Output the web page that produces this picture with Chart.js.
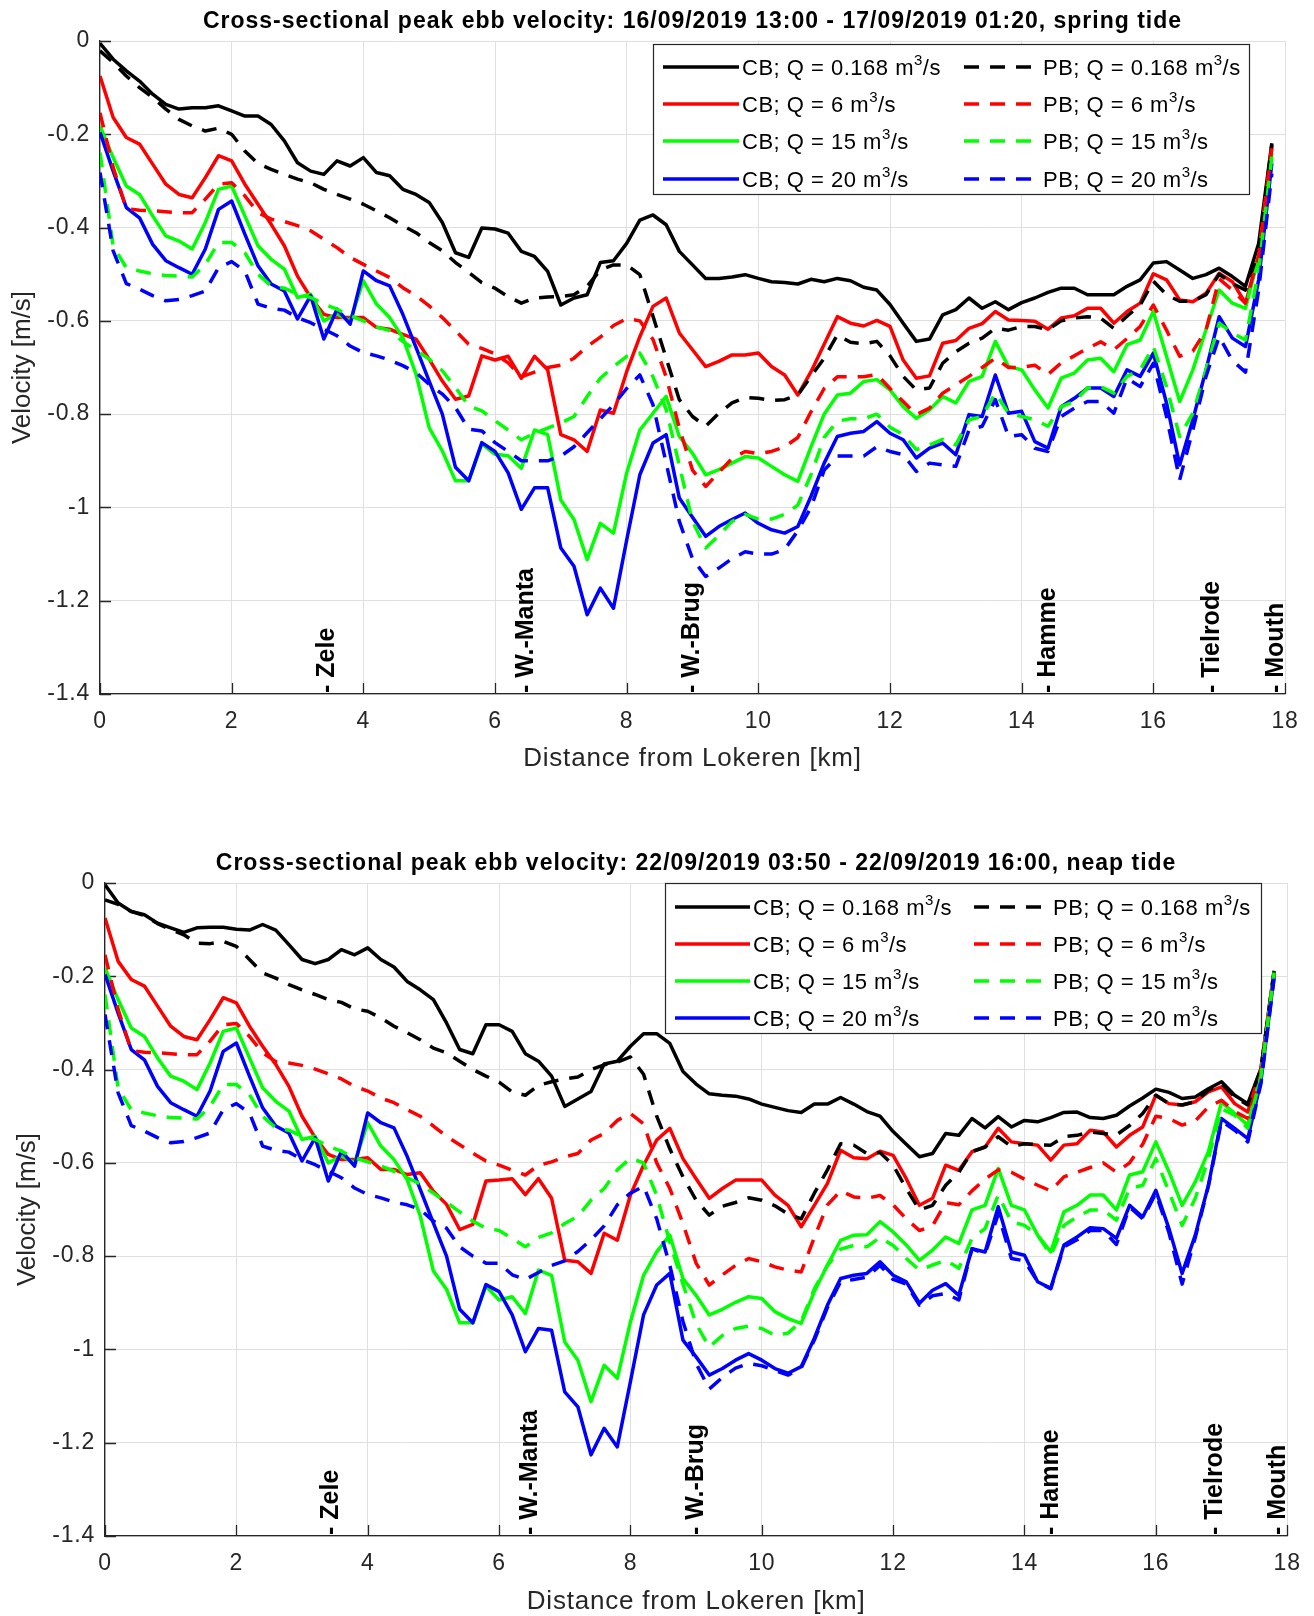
<!DOCTYPE html>
<html>
<head>
<meta charset="utf-8">
<script src="https://cdn.jsdelivr.net/npm/chart.js@4.4.0/dist/chart.umd.min.js"></script>
<style>
  html, body { margin: 0; padding: 0; background: #fff; }
  #fig { position: relative; width: 1314px; height: 1616px; }
  canvas { position: absolute; left: 0; }
</style>
</head>
<body>
<div id="fig">
  <canvas id="springChart" width="1314" height="810" style="top:0"></canvas>
  <canvas id="neapChart" width="1314" height="806" style="top:810px"></canvas>
</div>
<script>
// distance along the river (km), one value every 200 m
const distanceKm = [
  0.0, 0.2, 0.4, 0.6, 0.8, 1.0, 1.2, 1.4, 1.6, 1.8,
  2.0, 2.2, 2.4, 2.6, 2.8, 3.0, 3.2, 3.4, 3.6, 3.8,
  4.0, 4.2, 4.4, 4.6, 4.8, 5.0, 5.2, 5.4, 5.6, 5.8,
  6.0, 6.2, 6.4, 6.6, 6.8, 7.0, 7.2, 7.4, 7.6, 7.8,
  8.0, 8.2, 8.4, 8.6, 8.8, 9.0, 9.2, 9.4, 9.6, 9.8,
  10.0, 10.2, 10.4, 10.6, 10.8, 11.0, 11.2, 11.4, 11.6, 11.8,
  12.0, 12.2, 12.4, 12.6, 12.8, 13.0, 13.2, 13.4, 13.6, 13.8,
  14.0, 14.2, 14.4, 14.6, 14.8, 15.0, 15.2, 15.4, 15.6, 15.8,
  16.0, 16.2, 16.4, 16.6, 16.8, 17.0, 17.2, 17.4, 17.6, 17.8
];

const xTickValues = [0, 2, 4, 6, 8, 10, 12, 14, 16, 18];
const yTickValues = [-1.4, -1.2, -1, -0.8, -0.6, -0.4, -0.2, 0];
const yTickLabels = ['-1.4', '-1.2', '-1', '-0.8', '-0.6', '-0.4', '-0.2', '0'];

const flowLabels = ['0.168', '6', '15', '20'];
const stationNames = ['Zele', 'W.-Manta', 'W.-Brug', 'Hamme', 'Tielrode', 'Mouth'];
const stationKm = [3.45, 6.48, 9.0, 14.4, 16.9, 17.86];

// ---- spring tide (16/09/2019) ----
const springCB_Q0168 = [
  -0.005,-0.039,-0.064,-0.086,-0.114,-0.136,-0.146,-0.143,-0.143,-0.139,
  -0.150,-0.161,-0.161,-0.179,-0.214,-0.261,-0.279,-0.286,-0.257,-0.268,
  -0.250,-0.282,-0.289,-0.318,-0.329,-0.346,-0.389,-0.454,-0.464,-0.401,
  -0.403,-0.412,-0.451,-0.462,-0.494,-0.566,-0.551,-0.544,-0.475,-0.471,
  -0.434,-0.384,-0.373,-0.394,-0.451,-0.480,-0.509,-0.509,-0.506,-0.501,
  -0.509,-0.516,-0.518,-0.521,-0.511,-0.516,-0.509,-0.514,-0.528,-0.534,
  -0.565,-0.605,-0.644,-0.639,-0.587,-0.576,-0.551,-0.573,-0.559,-0.576,
  -0.561,-0.551,-0.539,-0.530,-0.530,-0.544,-0.544,-0.544,-0.526,-0.512,
  -0.476,-0.473,-0.491,-0.509,-0.501,-0.487,-0.505,-0.526,-0.434,-0.219
];
const springCB_Q6 = [
  -0.075,-0.164,-0.207,-0.221,-0.264,-0.307,-0.329,-0.336,-0.293,-0.246,
  -0.257,-0.307,-0.350,-0.393,-0.439,-0.504,-0.550,-0.586,-0.593,-0.593,
  -0.593,-0.614,-0.618,-0.629,-0.639,-0.682,-0.729,-0.768,-0.761,-0.675,
  -0.684,-0.676,-0.723,-0.676,-0.705,-0.844,-0.855,-0.880,-0.791,-0.798,
  -0.709,-0.634,-0.569,-0.551,-0.626,-0.662,-0.698,-0.687,-0.673,-0.673,
  -0.669,-0.698,-0.716,-0.759,-0.709,-0.650,-0.591,-0.605,-0.611,-0.599,
  -0.612,-0.684,-0.723,-0.718,-0.648,-0.642,-0.616,-0.606,-0.580,-0.598,
  -0.599,-0.601,-0.618,-0.594,-0.589,-0.573,-0.573,-0.605,-0.580,-0.562,
  -0.499,-0.512,-0.555,-0.559,-0.541,-0.498,-0.516,-0.562,-0.462,-0.226
];
const springCB_Q15 = [
  -0.182,-0.250,-0.311,-0.329,-0.375,-0.418,-0.429,-0.446,-0.389,-0.318,
  -0.311,-0.375,-0.439,-0.468,-0.489,-0.550,-0.543,-0.600,-0.585,-0.600,
  -0.514,-0.564,-0.593,-0.636,-0.714,-0.829,-0.879,-0.943,-0.943,-0.864,
  -0.886,-0.889,-0.916,-0.834,-0.844,-0.984,-1.026,-1.112,-1.034,-1.055,
  -0.926,-0.834,-0.798,-0.762,-0.848,-0.884,-0.930,-0.919,-0.905,-0.891,
  -0.894,-0.912,-0.930,-0.944,-0.870,-0.800,-0.759,-0.755,-0.730,-0.726,
  -0.748,-0.784,-0.809,-0.791,-0.762,-0.776,-0.730,-0.719,-0.644,-0.698,
  -0.705,-0.748,-0.787,-0.723,-0.712,-0.684,-0.680,-0.709,-0.651,-0.641,
  -0.580,-0.676,-0.773,-0.705,-0.619,-0.534,-0.562,-0.573,-0.462,-0.241
];
const springCB_Q20 = [
  -0.196,-0.279,-0.357,-0.379,-0.436,-0.471,-0.486,-0.500,-0.446,-0.361,
  -0.343,-0.414,-0.482,-0.521,-0.536,-0.596,-0.546,-0.639,-0.575,-0.607,
  -0.493,-0.514,-0.525,-0.586,-0.657,-0.729,-0.800,-0.914,-0.943,-0.861,
  -0.880,-0.926,-1.004,-0.958,-0.958,-1.087,-1.126,-1.230,-1.173,-1.216,
  -1.070,-0.930,-0.862,-0.844,-0.980,-1.021,-1.062,-1.041,-1.026,-1.012,
  -1.034,-1.048,-1.055,-1.041,-0.976,-0.905,-0.848,-0.841,-0.837,-0.816,
  -0.841,-0.855,-0.894,-0.873,-0.862,-0.887,-0.801,-0.805,-0.716,-0.798,
  -0.794,-0.859,-0.873,-0.784,-0.766,-0.744,-0.744,-0.762,-0.705,-0.719,
  -0.669,-0.776,-0.909,-0.812,-0.705,-0.591,-0.637,-0.655,-0.512,-0.262
];
const springPB_Q0168 = [
  -0.021,-0.046,-0.075,-0.100,-0.121,-0.146,-0.168,-0.182,-0.193,-0.187,
  -0.200,-0.236,-0.263,-0.275,-0.286,-0.296,-0.304,-0.318,-0.329,-0.339,
  -0.350,-0.364,-0.379,-0.396,-0.411,-0.432,-0.450,-0.475,-0.496,-0.518,
  -0.530,-0.548,-0.562,-0.551,-0.549,-0.548,-0.544,-0.526,-0.491,-0.480,
  -0.480,-0.501,-0.590,-0.680,-0.769,-0.805,-0.826,-0.798,-0.776,-0.764,
  -0.766,-0.771,-0.769,-0.759,-0.719,-0.680,-0.630,-0.646,-0.649,-0.644,
  -0.675,-0.719,-0.748,-0.744,-0.691,-0.666,-0.648,-0.637,-0.616,-0.620,
  -0.612,-0.612,-0.619,-0.600,-0.594,-0.591,-0.594,-0.616,-0.590,-0.566,
  -0.515,-0.544,-0.558,-0.558,-0.544,-0.500,-0.520,-0.534,-0.450,-0.222
];
const springPB_Q6 = [
  -0.154,-0.271,-0.359,-0.363,-0.364,-0.366,-0.368,-0.368,-0.339,-0.307,
  -0.304,-0.332,-0.368,-0.382,-0.387,-0.396,-0.407,-0.425,-0.443,-0.464,
  -0.479,-0.493,-0.507,-0.529,-0.546,-0.568,-0.593,-0.621,-0.650,-0.659,
  -0.671,-0.690,-0.720,-0.710,-0.700,-0.695,-0.680,-0.655,-0.635,-0.610,
  -0.595,-0.600,-0.640,-0.720,-0.830,-0.920,-0.955,-0.925,-0.895,-0.880,
  -0.885,-0.880,-0.870,-0.850,-0.795,-0.745,-0.720,-0.720,-0.720,-0.715,
  -0.745,-0.773,-0.801,-0.787,-0.755,-0.737,-0.719,-0.700,-0.680,-0.700,
  -0.700,-0.695,-0.715,-0.690,-0.675,-0.659,-0.645,-0.662,-0.638,-0.612,
  -0.566,-0.620,-0.676,-0.665,-0.620,-0.510,-0.534,-0.562,-0.460,-0.230
];
const springPB_Q15 = [
  -0.239,-0.440,-0.486,-0.493,-0.499,-0.503,-0.504,-0.506,-0.479,-0.432,
  -0.432,-0.454,-0.500,-0.525,-0.530,-0.543,-0.550,-0.564,-0.575,-0.589,
  -0.600,-0.613,-0.621,-0.644,-0.663,-0.682,-0.707,-0.743,-0.782,-0.793,
  -0.814,-0.834,-0.855,-0.841,-0.830,-0.819,-0.805,-0.762,-0.723,-0.698,
  -0.676,-0.669,-0.720,-0.790,-0.910,-1.030,-1.087,-1.060,-1.030,-1.015,
  -1.025,-1.025,-1.015,-0.995,-0.930,-0.850,-0.815,-0.810,-0.810,-0.800,
  -0.828,-0.844,-0.876,-0.866,-0.854,-0.866,-0.812,-0.805,-0.755,-0.798,
  -0.805,-0.812,-0.826,-0.784,-0.773,-0.744,-0.741,-0.755,-0.719,-0.705,
  -0.655,-0.741,-0.848,-0.798,-0.705,-0.605,-0.626,-0.641,-0.491,-0.248
];
const springPB_Q20 = [
  -0.282,-0.450,-0.520,-0.532,-0.546,-0.557,-0.554,-0.546,-0.536,-0.486,
  -0.473,-0.493,-0.564,-0.573,-0.577,-0.593,-0.604,-0.618,-0.632,-0.654,
  -0.668,-0.675,-0.684,-0.696,-0.711,-0.736,-0.757,-0.786,-0.832,-0.836,
  -0.861,-0.880,-0.900,-0.900,-0.900,-0.890,-0.870,-0.840,-0.810,-0.780,
  -0.745,-0.716,-0.780,-0.905,-1.030,-1.110,-1.148,-1.130,-1.110,-1.095,
  -1.100,-1.100,-1.090,-1.050,-1.000,-0.920,-0.890,-0.890,-0.890,-0.870,
  -0.880,-0.887,-0.923,-0.905,-0.909,-0.912,-0.834,-0.826,-0.769,-0.848,
  -0.844,-0.873,-0.880,-0.805,-0.787,-0.773,-0.773,-0.798,-0.723,-0.741,
  -0.691,-0.805,-0.941,-0.834,-0.719,-0.634,-0.685,-0.710,-0.534,-0.284
];

// ---- neap tide (22/09/2019) ----
const neapCB_Q0168 = [
  -0.004,-0.043,-0.061,-0.068,-0.086,-0.096,-0.106,-0.096,-0.095,-0.095,
  -0.099,-0.101,-0.089,-0.101,-0.132,-0.164,-0.173,-0.164,-0.143,-0.154,
  -0.139,-0.164,-0.180,-0.211,-0.229,-0.250,-0.300,-0.357,-0.366,-0.304,
  -0.304,-0.318,-0.366,-0.382,-0.414,-0.479,-0.463,-0.447,-0.388,-0.382,
  -0.350,-0.323,-0.323,-0.344,-0.404,-0.431,-0.452,-0.455,-0.457,-0.463,
  -0.474,-0.481,-0.488,-0.492,-0.474,-0.474,-0.460,-0.474,-0.490,-0.500,
  -0.533,-0.560,-0.587,-0.580,-0.537,-0.541,-0.505,-0.525,-0.501,-0.523,
  -0.509,-0.512,-0.503,-0.492,-0.491,-0.503,-0.505,-0.498,-0.478,-0.461,
  -0.442,-0.449,-0.462,-0.459,-0.441,-0.426,-0.455,-0.473,-0.398,-0.188
];
const neapCB_Q6 = [
  -0.075,-0.168,-0.207,-0.221,-0.264,-0.307,-0.329,-0.336,-0.293,-0.246,
  -0.257,-0.307,-0.350,-0.389,-0.436,-0.500,-0.546,-0.582,-0.593,-0.593,
  -0.589,-0.614,-0.614,-0.625,-0.621,-0.661,-0.689,-0.743,-0.732,-0.639,
  -0.637,-0.634,-0.668,-0.634,-0.676,-0.809,-0.812,-0.837,-0.751,-0.766,
  -0.669,-0.605,-0.551,-0.526,-0.591,-0.634,-0.676,-0.655,-0.637,-0.637,
  -0.637,-0.669,-0.691,-0.737,-0.691,-0.644,-0.573,-0.589,-0.591,-0.575,
  -0.584,-0.634,-0.691,-0.676,-0.605,-0.616,-0.576,-0.566,-0.526,-0.555,
  -0.559,-0.562,-0.594,-0.562,-0.559,-0.530,-0.534,-0.566,-0.541,-0.523,
  -0.455,-0.473,-0.476,-0.469,-0.448,-0.437,-0.473,-0.491,-0.400,-0.192
];
const neapCB_Q15 = [
  -0.182,-0.250,-0.311,-0.329,-0.375,-0.414,-0.425,-0.443,-0.386,-0.318,
  -0.311,-0.375,-0.439,-0.468,-0.489,-0.550,-0.543,-0.600,-0.585,-0.600,
  -0.514,-0.564,-0.593,-0.636,-0.714,-0.832,-0.871,-0.943,-0.943,-0.864,
  -0.894,-0.887,-0.923,-0.830,-0.841,-0.984,-1.023,-1.112,-1.034,-1.062,
  -0.941,-0.841,-0.791,-0.755,-0.848,-0.884,-0.926,-0.914,-0.899,-0.887,
  -0.891,-0.919,-0.934,-0.944,-0.876,-0.819,-0.766,-0.755,-0.754,-0.726,
  -0.748,-0.776,-0.809,-0.787,-0.759,-0.773,-0.701,-0.691,-0.612,-0.691,
  -0.701,-0.755,-0.791,-0.705,-0.691,-0.669,-0.669,-0.701,-0.626,-0.619,
  -0.555,-0.619,-0.691,-0.641,-0.576,-0.470,-0.494,-0.519,-0.410,-0.190
];
const neapCB_Q20 = [
  -0.196,-0.279,-0.357,-0.379,-0.436,-0.471,-0.486,-0.500,-0.446,-0.361,
  -0.343,-0.414,-0.482,-0.521,-0.536,-0.596,-0.546,-0.639,-0.575,-0.607,
  -0.493,-0.514,-0.525,-0.586,-0.657,-0.729,-0.800,-0.914,-0.943,-0.861,
  -0.876,-0.926,-1.005,-0.955,-0.959,-1.091,-1.123,-1.226,-1.169,-1.209,
  -1.069,-0.926,-0.862,-0.837,-0.980,-1.016,-1.055,-1.041,-1.023,-1.009,
  -1.023,-1.041,-1.051,-1.037,-0.976,-0.905,-0.848,-0.841,-0.837,-0.812,
  -0.841,-0.855,-0.901,-0.873,-0.859,-0.884,-0.784,-0.791,-0.694,-0.791,
  -0.798,-0.855,-0.869,-0.776,-0.759,-0.739,-0.741,-0.762,-0.691,-0.716,
  -0.659,-0.741,-0.837,-0.755,-0.648,-0.505,-0.526,-0.548,-0.425,-0.200
];
const neapPB_Q0168 = [
  -0.036,-0.046,-0.061,-0.070,-0.087,-0.100,-0.111,-0.129,-0.130,-0.125,
  -0.136,-0.164,-0.193,-0.204,-0.218,-0.229,-0.239,-0.250,-0.256,-0.270,
  -0.275,-0.289,-0.307,-0.321,-0.336,-0.354,-0.364,-0.382,-0.400,-0.414,
  -0.427,-0.448,-0.455,-0.434,-0.426,-0.420,-0.416,-0.400,-0.390,-0.384,
  -0.373,-0.410,-0.500,-0.570,-0.630,-0.680,-0.712,-0.693,-0.685,-0.675,
  -0.680,-0.692,-0.710,-0.720,-0.665,-0.615,-0.559,-0.562,-0.580,-0.578,
  -0.605,-0.655,-0.701,-0.691,-0.648,-0.620,-0.576,-0.566,-0.544,-0.565,
  -0.559,-0.561,-0.562,-0.544,-0.541,-0.534,-0.537,-0.540,-0.520,-0.494,
  -0.455,-0.473,-0.476,-0.469,-0.444,-0.430,-0.459,-0.476,-0.400,-0.190
];
const neapPB_Q6 = [
  -0.154,-0.271,-0.359,-0.363,-0.364,-0.366,-0.368,-0.368,-0.339,-0.304,
  -0.301,-0.329,-0.364,-0.383,-0.386,-0.391,-0.399,-0.409,-0.420,-0.436,
  -0.446,-0.461,-0.471,-0.486,-0.500,-0.521,-0.543,-0.561,-0.579,-0.596,
  -0.605,-0.616,-0.626,-0.605,-0.598,-0.587,-0.580,-0.551,-0.537,-0.509,
  -0.494,-0.516,-0.600,-0.655,-0.730,-0.815,-0.862,-0.840,-0.820,-0.805,
  -0.812,-0.823,-0.830,-0.834,-0.760,-0.690,-0.660,-0.673,-0.676,-0.670,
  -0.690,-0.720,-0.745,-0.735,-0.685,-0.690,-0.660,-0.635,-0.615,-0.620,
  -0.635,-0.648,-0.660,-0.630,-0.620,-0.610,-0.600,-0.620,-0.600,-0.560,
  -0.500,-0.505,-0.519,-0.510,-0.480,-0.466,-0.490,-0.505,-0.410,-0.195
];
const neapPB_Q15 = [
  -0.239,-0.440,-0.486,-0.493,-0.499,-0.503,-0.504,-0.506,-0.479,-0.432,
  -0.432,-0.454,-0.500,-0.525,-0.530,-0.543,-0.550,-0.564,-0.575,-0.589,
  -0.598,-0.607,-0.618,-0.632,-0.645,-0.665,-0.685,-0.705,-0.725,-0.740,
  -0.745,-0.762,-0.780,-0.760,-0.750,-0.730,-0.715,-0.680,-0.655,-0.615,
  -0.590,-0.600,-0.670,-0.770,-0.860,-0.945,-0.995,-0.970,-0.955,-0.950,
  -0.955,-0.970,-0.965,-0.940,-0.870,-0.820,-0.785,-0.777,-0.780,-0.760,
  -0.777,-0.805,-0.830,-0.819,-0.809,-0.826,-0.762,-0.741,-0.669,-0.726,
  -0.734,-0.755,-0.798,-0.734,-0.716,-0.701,-0.701,-0.723,-0.655,-0.648,
  -0.591,-0.662,-0.734,-0.676,-0.591,-0.484,-0.498,-0.526,-0.415,-0.192
];
const neapPB_Q20 = [
  -0.282,-0.450,-0.520,-0.532,-0.546,-0.557,-0.554,-0.546,-0.536,-0.486,
  -0.473,-0.493,-0.564,-0.573,-0.577,-0.593,-0.604,-0.618,-0.632,-0.654,
  -0.668,-0.675,-0.684,-0.690,-0.700,-0.725,-0.740,-0.780,-0.800,-0.815,
  -0.815,-0.840,-0.850,-0.835,-0.820,-0.810,-0.790,-0.765,-0.735,-0.690,
  -0.665,-0.650,-0.720,-0.820,-0.940,-1.030,-1.085,-1.060,-1.040,-1.030,
  -1.035,-1.045,-1.055,-1.040,-0.980,-0.910,-0.855,-0.850,-0.845,-0.820,
  -0.850,-0.860,-0.905,-0.885,-0.880,-0.894,-0.784,-0.795,-0.710,-0.805,
  -0.810,-0.855,-0.870,-0.780,-0.765,-0.745,-0.745,-0.775,-0.695,-0.720,
  -0.665,-0.750,-0.860,-0.760,-0.650,-0.510,-0.530,-0.555,-0.430,-0.205
];

const FONT = '"Liberation Sans", Arial, Helvetica, sans-serif';
const AXIS_COLOR = '#262626';
const GRID_COLOR = '#dfdfdf';
const lineColors = ['#000000', '#ff0000', '#00ff00', '#0000ff'];
const DASH = [15, 11];
const LINE_W = 3.5;
Chart.defaults.font.family = FONT;

function drawEntryText(ctx, x, y, group, flow) {
  ctx.fillStyle = '#000';
  ctx.textAlign = 'left';
  ctx.textBaseline = 'alphabetic';
  ctx.letterSpacing = '0.5px';
  const base = y + 8;
  const main = group + '; Q = ' + flow + ' m';
  ctx.font = '22px ' + FONT;
  ctx.fillText(main, x, base);
  x += ctx.measureText(main).width;
  ctx.font = '15px ' + FONT;
  ctx.fillText('3', x, base - 10);
  x += ctx.measureText('3').width;
  ctx.font = '22px ' + FONT;
  ctx.fillText('/s', x, base);
}

function figurePlugin(panel) {
  return {
    id: 'figureDecor',
    beforeDraw(chart) {
      chart.ctx.letterSpacing = '0.8px';
    },
    beforeDatasetsDraw(chart) {
      // inward tick marks, MATLAB style
      const { ctx, chartArea: a, scales } = chart;
      ctx.save();
      ctx.strokeStyle = AXIS_COLOR;
      ctx.lineWidth = 1.3;
      ctx.beginPath();
      xTickValues.forEach(v => {
        const px = Math.round(scales.x.getPixelForValue(v)) + 0.5;
        ctx.moveTo(px, a.bottom);
        ctx.lineTo(px, a.bottom - 11);
      });
      yTickValues.forEach(v => {
        const py = Math.round(scales.y.getPixelForValue(v)) + 0.5;
        ctx.moveTo(a.left, py);
        ctx.lineTo(a.left + 11, py);
      });
      ctx.stroke();
      ctx.restore();
    },
    afterDraw(chart) {
      const { ctx, chartArea: a, scales } = chart;
      ctx.save();

      // title
      ctx.fillStyle = '#000';
      ctx.font = 'bold 23px ' + FONT;
      ctx.letterSpacing = '1px';
      ctx.textAlign = 'center';
      ctx.textBaseline = 'middle';
      ctx.fillText(panel.title, (a.left + a.right) / 2, panel.titleY);

      // axis labels
      ctx.fillStyle = AXIS_COLOR;
      ctx.font = '26px ' + FONT;
      ctx.letterSpacing = '0.8px';
      ctx.fillText('Distance from Lokeren [km]', (a.left + a.right) / 2, panel.xlabelY);
      ctx.save();
      ctx.letterSpacing = '0px';
      ctx.translate(panel.ylabelX, (a.top + a.bottom) / 2);
      ctx.rotate(-Math.PI / 2);
      ctx.fillText('Velocity [m/s]', 0, 0);
      ctx.restore();

      // station markers
      ctx.fillStyle = '#000';
      ctx.font = 'bold 25px ' + FONT;
      ctx.letterSpacing = '0px';
      ctx.textAlign = 'left';
      ctx.textBaseline = 'middle';
      stationNames.forEach((name, i) => {
        const px = scales.x.getPixelForValue(stationKm[i]);
        ctx.save();
        ctx.translate(px, a.bottom - 1);
        ctx.rotate(-Math.PI / 2);
        ctx.fillText('- ' + name, 0, 0);
        ctx.restore();
      });

      // legend
      const L = panel.legend;
      ctx.fillStyle = '#fff';
      ctx.fillRect(L.left, L.top, L.right - L.left, L.bottom - L.top);
      ctx.strokeStyle = AXIS_COLOR;
      ctx.lineWidth = 1.2;
      ctx.setLineDash([]);
      ctx.strokeRect(L.left + 0.5, L.top + 0.5, L.right - L.left, L.bottom - L.top);
      ['CB', 'PB'].forEach((group, c) => {
        const line = c === 0 ? L.col1Line : L.col2Line;
        const tx = c === 0 ? L.col1Text : L.col2Text;
        flowLabels.forEach((flow, r) => {
          const y = L.rows[r];
          ctx.strokeStyle = lineColors[r];
          ctx.lineWidth = LINE_W;
          ctx.setLineDash(c === 0 ? [] : DASH);
          ctx.beginPath();
          ctx.moveTo(line[0], y);
          ctx.lineTo(line[1], y);
          ctx.stroke();
          drawEntryText(ctx, tx, y, group, flow);
        });
      });
      ctx.restore();
    }
  };
}

function buildPanel(canvasId, panel) {
  const seriesList = [...panel.cb, ...panel.pb];
  const datasets = seriesList.map((vals, i) => ({
    label: (i < 4 ? 'CB' : 'PB') + '; Q = ' + flowLabels[i % 4] + ' m3/s',
    data: distanceKm.map((x, j) => ({ x: x, y: vals[j] })),
    borderColor: lineColors[i % 4],
    borderDash: i < 4 ? [] : DASH,
    borderWidth: LINE_W,
    borderJoinStyle: 'round',
    pointRadius: 0,
    fill: false,
    tension: 0,
    order: 8 - i
  }));

  const canvasH = document.getElementById(canvasId).height;
  new Chart(document.getElementById(canvasId), {
    type: 'line',
    data: { datasets },
    options: {
      responsive: false,
      animation: false,
      devicePixelRatio: 1,
      layout: { padding: { left: 0, top: panel.area.top, right: 1314 - panel.area.right, bottom: 0 } },
      plugins: { legend: { display: false }, title: { display: false }, tooltip: { enabled: false } },
      scales: {
        x: {
          type: 'linear', min: 0, max: 18,
          afterBuildTicks: sc => { sc.ticks = xTickValues.map(v => ({ value: v })); },
          afterFit: sc => { sc.height = canvasH - panel.area.bottom; },
          grid: { color: GRID_COLOR, lineWidth: 1, drawTicks: false },
          border: { display: true, color: AXIS_COLOR, width: 1.3 },
          ticks: { color: AXIS_COLOR, font: { size: 23 }, padding: 14, maxRotation: 0 }
        },
        y: {
          type: 'linear', min: -1.4, max: 0,
          afterBuildTicks: sc => { sc.ticks = yTickValues.map(v => ({ value: v })); },
          afterFit: sc => { sc.width = panel.area.left; },
          grid: { color: GRID_COLOR, lineWidth: 1, drawTicks: false },
          border: { display: true, color: AXIS_COLOR, width: 1.3 },
          ticks: {
            color: AXIS_COLOR, font: { size: 23 }, padding: 10,
            callback: v => yTickLabels[yTickValues.indexOf(v)]
          }
        }
      }
    },
    plugins: [figurePlugin(panel)]
  });
}

buildPanel('springChart', {
  title: 'Cross-sectional peak ebb velocity: 16/09/2019 13:00 - 17/09/2019 01:20, spring tide',
  cb: [springCB_Q0168, springCB_Q6, springCB_Q15, springCB_Q20],
  pb: [springPB_Q0168, springPB_Q6, springPB_Q15, springPB_Q20],
  area: { left: 100, top: 41, right: 1285, bottom: 694 },
  titleY: 22, xlabelY: 759, ylabelX: 23,
  legend: {
    left: 653, top: 44, right: 1249, bottom: 194,
    col1Line: [663, 739], col1Text: 742,
    col2Line: [964, 1039], col2Text: 1043,
    rows: [67, 104, 141, 179]
  }
});

buildPanel('neapChart', {
  title: 'Cross-sectional peak ebb velocity: 22/09/2019 03:50 - 22/09/2019 16:00, neap tide',
  cb: [neapCB_Q0168, neapCB_Q6, neapCB_Q15, neapCB_Q20],
  pb: [neapPB_Q0168, neapPB_Q6, neapPB_Q15, neapPB_Q20],
  area: { left: 105, top: 73, right: 1288, bottom: 726 },
  titleY: 54, xlabelY: 792, ylabelX: 28,
  legend: {
    left: 665, top: 73, right: 1261, bottom: 223,
    col1Line: [675, 750], col1Text: 753,
    col2Line: [974, 1049], col2Text: 1053,
    rows: [97, 134, 171, 208]
  }
});
</script>
</body>
</html>
